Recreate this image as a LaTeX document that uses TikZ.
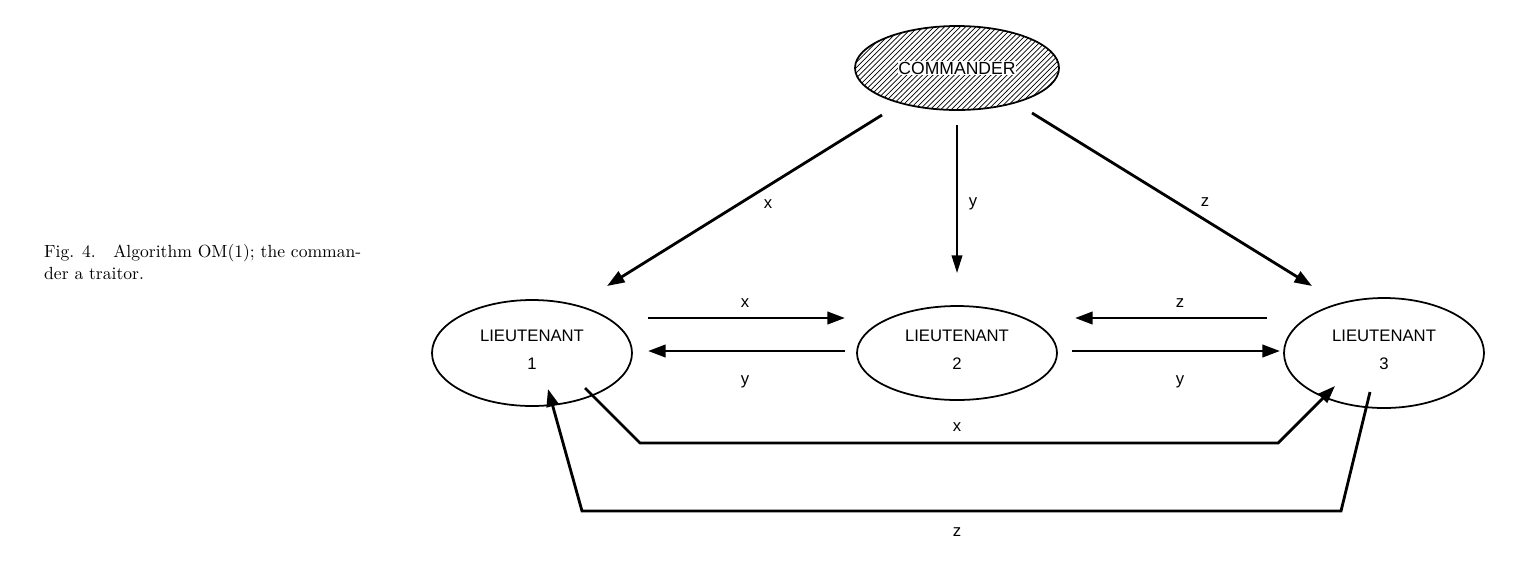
\documentclass[tikz,border=0pt]{standalone}
\usepackage{fontspec}
\setsansfont{Liberation Sans}
\usetikzlibrary{patterns,arrows.meta}
\begin{document}
\begin{tikzpicture}[x=0.02cm,y=-0.02cm,
  ar/.style={line width=1.6pt,-{Triangle[length=10pt,width=7pt]}},
  thin ar/.style={line width=1.1pt,-{Triangle[length=10pt,width=6pt]}},
  lab/.style={font=\sffamily\fontsize{9.5}{12}\selectfont}]
\useasboundingbox (0,0) rectangle (1514,576);
\node[font=\rmfamily\fontsize{10}{12}\selectfont,align=left,anchor=west] (cap) at (38,262) {Fig. 4.\quad Algorithm OM(1); the comman-\\der a traitor.};
\draw[line width=1pt,pattern=north east lines] (957,68) ellipse [x radius=102,y radius=42];
\node[lab,fill=white,inner sep=0.5pt,font=\sffamily\fontsize{10}{10}\selectfont] (C) at (957,68) {COMMANDER};
\draw[line width=1pt] (532,353) ellipse [x radius=100,y radius=53];
\draw[line width=1pt] (957,353) ellipse [x radius=100,y radius=47];
\draw[line width=1pt] (1384,353) ellipse [x radius=100,y radius=55];
\node[lab,align=center] (L1) at (532,350) {LIEUTENANT\\[4pt]1};
\node[lab,align=center] (L2) at (957,350) {LIEUTENANT\\[4pt]2};
\node[lab,align=center] (L3) at (1384,350) {LIEUTENANT\\[4pt]3};
\coordinate (c1) at (882,115); \coordinate (t1) at (607,286);
\coordinate (c2) at (957,125); \coordinate (t2) at (957,273);
\coordinate (c3) at (1032,113); \coordinate (t3) at (1312,286);
\draw[ar] (c1) -- (t1);
\draw[thin ar] (c2) -- (t2);
\draw[ar] (c3) -- (t3);
\node[lab] (lx) at (768,204) {x};
\node[lab] (ly) at (973,204) {y};
\node[lab] (lz) at (1205,202) {z};
\draw[ar] (648,318) -- (845,318);
\draw[ar] (845,351) -- (648,351);
\draw[ar] (1267,318) -- (1075,318);
\draw[ar] (1072,351) -- (1280,351);
\node[lab] (a1) at (745,303) {x};
\node[lab] (a2) at (745,382) {y};
\node[lab] (a3) at (1180,303) {z};
\node[lab] (a4) at (1180,382) {y};
\draw[ar] (585,388) -- (640,443) -- (1278,443) -- (1335,386);
\node[lab] (bx) at (957,427) {x};
\draw[ar] (1370,392) -- (1341,511) -- (582,511) -- (548,389);
\node[lab] (bz) at (957,532) {z};
\end{tikzpicture}
\end{document}
